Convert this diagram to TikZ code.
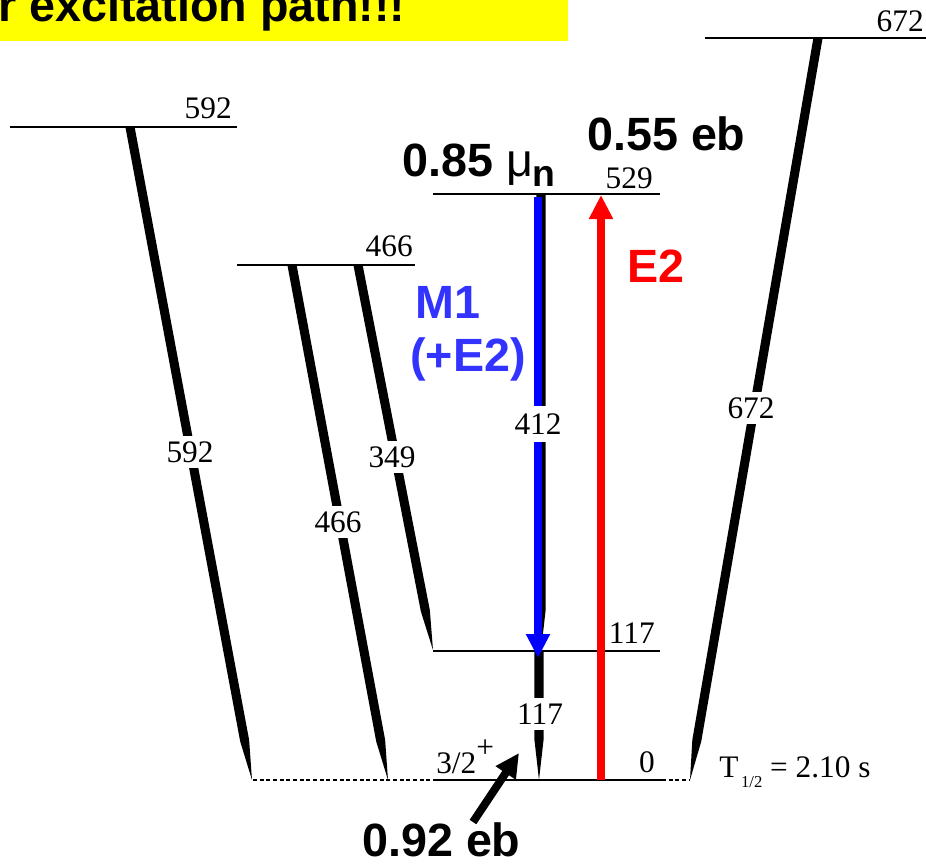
\documentclass[tikz,border=0pt]{standalone}
\usepackage{fontspec}
\setmainfont{Liberation Serif}
\newfontfamily\arialf{Liberation Sans}
\usetikzlibrary{calc,arrows.meta}

\definecolor{ylw}{RGB}{255,255,0}
\definecolor{pblue}{RGB}{0,0,255}
\definecolor{tblue}{RGB}{51,51,255}
\definecolor{pred}{RGB}{255,0,0}

\tikzset{
  levelline/.style={line width=1.5pt},
  dlevelline/.style={line width=1.5pt, dash pattern=on 3pt off 2pt},
  lab/.style={font=\fontsize{23.5}{25}\selectfont, inner sep=0pt},
  glab/.style={lab, fill=white, inner xsep=2pt, inner ysep=4pt},
  big/.style={font=\arialf\bfseries\fontsize{35}{40}\selectfont, inner sep=0pt},
  arr/.style={line width=6.2pt, -{Triangle[length=18pt,width=17pt]}},
}

\newcommand{\gamline}[2]{%
  \coordinate (tp) at ($(#2)!30pt!(#1)$);
  \fill ($(#1)!3.4pt!90:(#2)$) -- ($(tp)!3.4pt!90:(#2)$) -- (#2) -- ($(tp)!3.4pt!-90:(#2)$) -- ($(#1)!3.4pt!-90:(#2)$) -- cycle;
}

\begin{document}
\begin{tikzpicture}[x=0.75pt,y=-0.75pt]
\useasboundingbox (0,0) rectangle (926,864);

% title
\fill[ylw] (-5,-5) rectangle (568,41);
\node[big, anchor=base west] (title) at (-2,21) {r excitation path!!!};

% levels
\coordinate (a592) at (10,127);  \coordinate (b592) at (237,127);
\coordinate (a466) at (237,265); \coordinate (b466) at (415,265);
\coordinate (a529) at (433,194); \coordinate (b529) at (660,194);
\coordinate (a117) at (433,651); \coordinate (b117) at (660,651);
\coordinate (a672) at (705,38);  \coordinate (b672) at (930,38);
\coordinate (a0) at (433,780);   \coordinate (b0) at (662,780);
\coordinate (d0l) at (253,780);  \coordinate (d0r) at (689,780);

\draw[levelline] (a592) -- (b592);
\draw[levelline] (a466) -- (b466);
\draw[levelline] (a529) -- (b529);
\draw[levelline] (a117) -- (b117);
\draw[levelline] (a672) -- (b672);
\draw[levelline] (a0) -- (b0);
\draw[dlevelline] (d0l) -- (a0);
\draw[dlevelline] (b0) -- (d0r);

% gamma transitions
\coordinate (g592t) at (130,127); \coordinate (g592b) at (252,780);
\coordinate (g466t) at (292,265); \coordinate (g466b) at (388,780);
\coordinate (g349t) at (358,265); \coordinate (g349b) at (433,650);
\coordinate (g412t) at (541,194); \coordinate (g412b) at (541,651);
\coordinate (g117t) at (539,651); \coordinate (g117b) at (539,780);
\coordinate (g672t) at (818,38);  \coordinate (g672b) at (690,780);

\gamline{g592t}{g592b}
\gamline{g466t}{g466b}
\gamline{g349t}{g349b}
\gamline{g412t}{g412b}
\gamline{g117t}{g117b}
\gamline{g672t}{g672b}

% arrows
\coordinate (m1t) at (538,197); \coordinate (m1b) at (538,658);
\draw[arr, pblue] (m1t) -- (m1b);
\coordinate (e2b) at (601,780); \coordinate (e2t) at (601,195);
\draw[arr, pred] (e2b) -- (e2t);
\coordinate (qb) at (473,822); \coordinate (qt) at (519,753);
\draw[arr, black, line width=6pt] (qb) -- (qt);

% level labels
\node[lab, anchor=base east] (l592) at (232,118) {592};
\node[lab, anchor=base east] (l466) at (413,256) {466};
\node[lab, anchor=base east] (l529) at (653,188) {529};
\node[lab, anchor=base east] (l117) at (655,643) {117};
\node[lab, anchor=base east] (l672) at (924,31) {672};
\node[lab, anchor=base east] (l0) at (655,772) {0};
\node[lab, anchor=base west] (spin) at (436,773) {3/2\raisebox{12pt}{+}};
\node[lab, anchor=base west] (thalf) at (719,777) {T\hspace{2pt}\raisebox{-8pt}{\fontsize{12.5}{13}\selectfont 1/2} = 2.10 s};

% gamma labels
\node[glab] (t592) at (190,452) {592};
\node[glab] (t466) at (338,522) {466};
\node[glab] (t349) at (392,457) {349};
\node[glab, inner ysep=6pt] (t412) at (538,424) {412};
\node[glab] (t117) at (540,714) {117};
\node[glab] (t672) at (751,408) {672};

% big labels
\node[big, anchor=base west] (mu) at (402,176) {0.85 {\mdseries μ}\raisebox{-8pt}{\fontsize{28}{30}\selectfont n}};
\node[big, anchor=base west] (q55) at (587,150) {0.55 eb};
\node[big, anchor=base west] (q92) at (362,856) {0.92 eb};
\node[big, anchor=base west, text=tblue] (m1) at (415,318) {M1};
\node[big, anchor=base west, text=tblue] (pe2) at (410,371) {(+E2)};
\node[big, anchor=base west, text=pred] (e2) at (627,282) {E2};
\end{tikzpicture}
\end{document}
